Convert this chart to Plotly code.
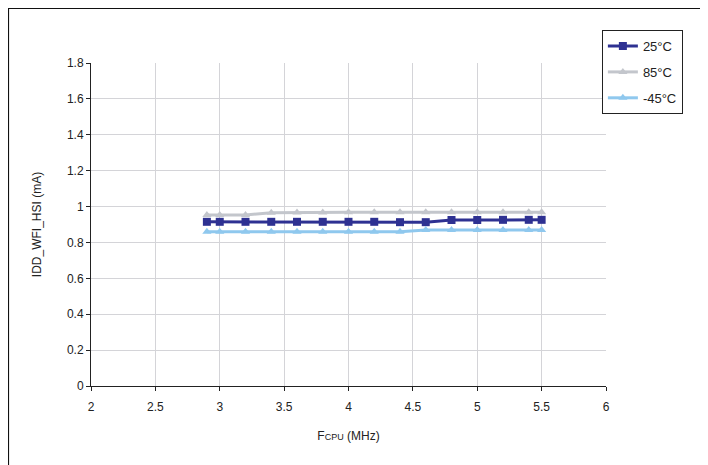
import plotly.graph_objects as go

fcpu = [2.9, 3.0, 3.2, 3.4, 3.6, 3.8, 4.0, 4.2, 4.4, 4.6, 4.8, 5.0, 5.2, 5.4, 5.5]
idd_25 = [0.915, 0.915, 0.915, 0.915, 0.915, 0.915, 0.915, 0.915, 0.913, 0.913, 0.925, 0.925, 0.926, 0.926, 0.926]
idd_85 = [0.953, 0.953, 0.953, 0.965, 0.967, 0.967, 0.968, 0.968, 0.968, 0.968, 0.968, 0.968, 0.968, 0.968, 0.968]
idd_m45 = [0.86, 0.86, 0.86, 0.86, 0.86, 0.86, 0.86, 0.86, 0.86, 0.87, 0.87, 0.87, 0.87, 0.87, 0.87]
series_names = ["25°C", "85°C", "-45°C"]

FONT = "Liberation Sans Narrow, Arial Narrow, Liberation Sans, Arial, sans-serif"

fig = go.Figure()
fig.add_trace(go.Scatter(x=fcpu, y=idd_25, name=series_names[0], mode="lines+markers",
                         legendgroup="a",
                         line=dict(color="#2E3192", width=3),
                         marker=dict(symbol="square", size=8, color="#2E3192")))
fig.add_trace(go.Scatter(x=fcpu, y=idd_85, name=series_names[1], mode="lines+markers",
                         legendgroup="b",
                         line=dict(color="#C3C6CC", width=3),
                         marker=dict(symbol="triangle-up", size=8, color="#C3C6CC")))
fig.add_trace(go.Scatter(x=fcpu, y=idd_m45, name=series_names[2], mode="lines+markers",
                         legendgroup="c",
                         line=dict(color="#8FC8EE", width=3),
                         marker=dict(symbol="triangle-up", size=8, color="#8FC8EE")))

fig.update_layout(
    width=708, height=465,
    margin=dict(l=83, r=110, t=55, b=87),
    paper_bgcolor="white", plot_bgcolor="white",
    font=dict(family=FONT, size=12, color="#222"),
    legend=dict(x=0.992, y=1.102, xanchor="left", yanchor="top",
                bordercolor="#222", borderwidth=1, bgcolor="white",
                font=dict(size=13, family=FONT), itemwidth=30,
                tracegroupgap=6),
    xaxis=dict(range=[2, 6], dtick=0.5, tick0=2, showgrid=True, gridcolor="#D4D4D8",
               showline=True, linecolor="#222", linewidth=1, ticks="outside",
               ticklen=4, tickcolor="#222", zeroline=False, ticklabelstandoff=6,
               title=dict(text="F<span style='font-size:9px'>CPU</span> (MHz)", standoff=18,
                          font=dict(size=12))),
    yaxis=dict(range=[0, 1.8], dtick=0.2, tick0=0, showgrid=True, gridcolor="#D4D4D8",
               showline=True, linecolor="#222", linewidth=1, ticks="outside",
               ticklen=4, tickcolor="#222", zeroline=False,
               title=dict(text="IDD_WFI_HSI (mA)", standoff=22, font=dict(size=12))),
    shapes=[dict(type="rect", xref="paper", yref="paper",
                 x0=-0.161, x1=1.5, y0=-0.6, y1=1.17,
                 line=dict(color="#111", width=2), fillcolor="rgba(0,0,0,0)", layer="below")],
)

fig.write_html("out.html")
